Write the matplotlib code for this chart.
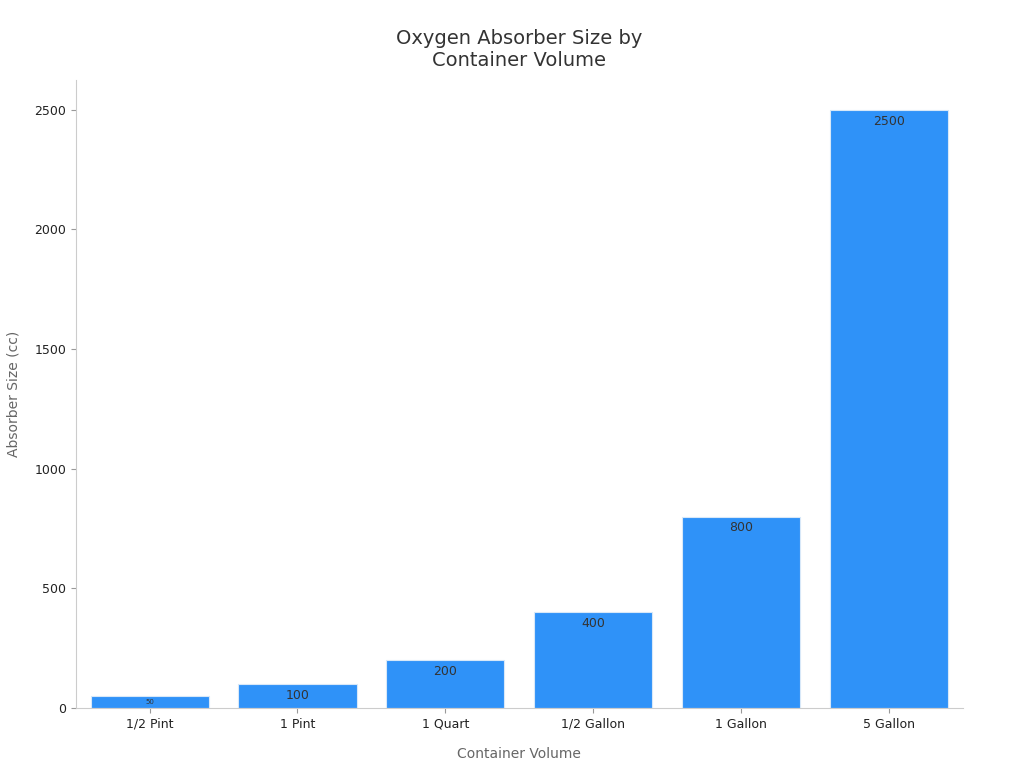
import matplotlib
matplotlib.use("Agg")
import matplotlib.pyplot as plt

categories = ["1/2 Pint", "1 Pint", "1 Quart", "1/2 Gallon", "1 Gallon", "5 Gallon"]
values = [50, 100, 200, 400, 800, 2500]

fig = plt.figure(figsize=(10.24, 7.68), dpi=100)
ax = fig.add_axes([0.074, 0.078, 0.866, 0.818])
bars = ax.bar(categories, values, width=0.8, color="#2f92f8", edgecolor="#d8e8f8", linewidth=0.8)
for b, v in zip(bars, values):
    fs = 5 if v < 80 else 9
    ax.text(b.get_x() + b.get_width() / 2, v - 12 if v < 80 else v - 20, str(v),
            ha="center", va="top", fontsize=fs, color="#333333")
ax.set_ylim(0, 2625)
ax.set_xlim(-0.5, 5.5)
ax.set_yticks([0, 500, 1000, 1500, 2000, 2500])
for s in ["top", "right"]:
    ax.spines[s].set_visible(False)
for s in ["left", "bottom"]:
    ax.spines[s].set_color("#cccccc")
ax.tick_params(colors="#222222", labelsize=9)
ax.tick_params(axis="both", color="#999999")
ax.set_xlabel("Container Volume", fontsize=10, color="#666666", labelpad=12)
ax.set_ylabel("Absorber Size (cc)", fontsize=10, color="#666666", labelpad=10)
ax.set_title("Oxygen Absorber Size by\nContainer Volume", fontsize=14, color="#333333", pad=10)
fig.savefig("out.png", dpi=100)
